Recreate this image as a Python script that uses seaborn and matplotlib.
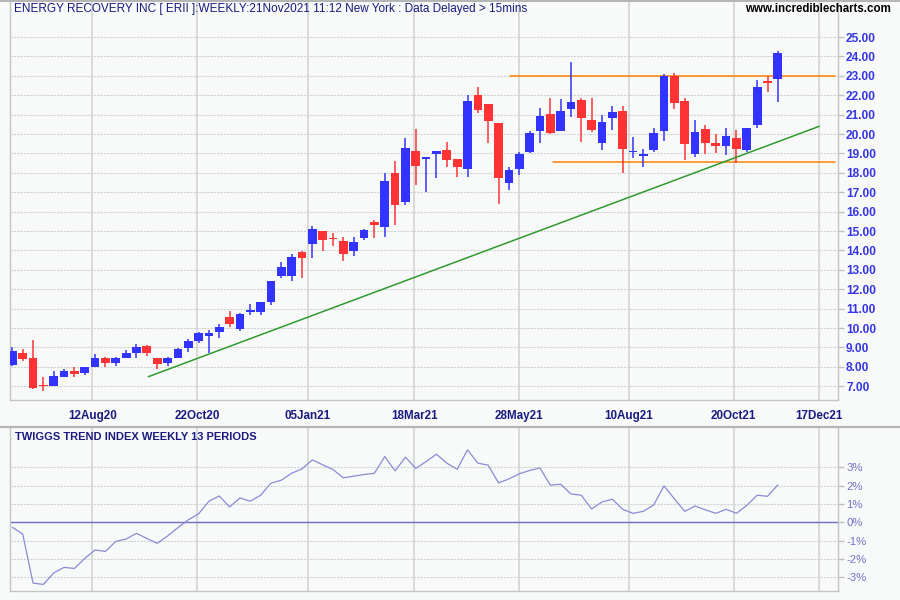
import matplotlib
matplotlib.use("Agg")
import matplotlib.pyplot as plt
import matplotlib.dates as mdates
from matplotlib.lines import Line2D
import numpy as np
import pandas as pd
import seaborn as sns

# ---------------- data ----------------
title_text = "ENERGY RECOVERY INC [ ERII ]:WEEKLY:21Nov2021 11:12 New York : Data Delayed > 15mins"
site_text = "www.incrediblecharts.com"
indicator_title = "TWIGGS TREND INDEX WEEKLY 13 PERIODS"

first_week = "2020-06-19"
n_weeks = 75

opens = [8.07, 8.69, 8.48, 7.03, 7.00, 7.50, 7.76, 7.66, 7.97, 8.43,
         8.19, 8.48, 8.69, 9.05, 8.43, 8.22, 8.43, 8.95, 9.34, 9.59,
         9.79, 10.55, 9.93, 10.81, 10.81, 11.36, 12.69, 12.66, 13.90, 14.31,
         15.02, 14.62, 14.50, 13.98, 14.62, 15.48, 15.19, 18.00, 16.52, 19.15,
         18.70, 18.96, 19.20, 18.73, 18.18, 22.00, 21.53, 20.55, 17.50, 18.18,
         19.09, 20.18, 21.05, 20.14, 21.28, 21.78, 20.74, 19.52, 20.81, 21.21,
         19.07, 18.88, 19.16, 20.14, 23.00, 21.72, 18.95, 20.28, 19.55, 19.36,
         19.81, 19.16, 20.45, 22.76, 22.86]
highs = [9.00, 8.90, 9.36, 7.48, 7.81, 7.90, 8.00, 7.97, 8.64, 8.53,
         8.53, 8.88, 9.17, 9.10, 8.43, 8.53, 8.95, 9.41, 9.78, 9.88,
         10.19, 10.90, 10.76, 11.26, 11.33, 12.43, 13.38, 13.84, 13.98, 15.28,
         15.02, 14.91, 14.67, 14.67, 15.12, 15.59, 17.97, 18.59, 19.82, 20.24,
         18.83, 19.15, 19.61, 18.73, 22.00, 22.42, 21.53, 20.55, 18.31, 19.09,
         20.18, 21.33, 21.88, 21.83, 23.69, 21.88, 21.88, 21.00, 21.47, 21.47,
         19.86, 19.21, 20.33, 23.10, 23.17, 21.88, 20.74, 20.48, 20.02, 20.33,
         20.22, 20.33, 22.81, 23.00, 24.30]
lows = [8.02, 8.29, 6.84, 6.74, 7.00, 7.45, 7.45, 7.57, 7.97, 7.97,
        8.02, 8.43, 8.48, 8.55, 7.88, 8.02, 8.43, 8.74, 9.24, 8.69,
        9.48, 10.05, 9.84, 10.66, 10.66, 11.19, 12.60, 12.43, 12.60, 13.59,
        13.95, 14.21, 13.47, 13.72, 14.55, 14.62, 14.67, 15.29, 16.34, 17.38,
        17.02, 17.76, 18.28, 17.81, 17.81, 21.08, 19.53, 16.41, 17.14, 17.87,
        19.04, 19.53, 19.98, 20.14, 20.86, 19.57, 20.09, 19.16, 20.19, 17.97,
        18.79, 18.28, 19.10, 19.62, 21.28, 18.64, 18.84, 18.95, 19.00, 18.90,
        18.53, 19.05, 20.29, 22.16, 21.64]
closes = [8.83, 8.38, 6.90, 7.00, 7.55, 7.76, 7.62, 7.97, 8.43, 8.19,
          8.48, 8.69, 9.00, 8.69, 8.14, 8.43, 8.90, 9.34, 9.74, 9.74,
          10.03, 10.19, 10.71, 10.91, 11.33, 12.43, 13.16, 13.67, 13.62, 15.12,
          14.52, 14.58, 13.84, 14.45, 15.07, 15.29, 17.59, 16.36, 19.30, 18.37,
          18.83, 19.15, 18.64, 18.28, 21.69, 21.24, 20.67, 17.71, 18.16, 18.99,
          20.08, 20.91, 20.03, 21.21, 21.67, 20.81, 20.19, 20.64, 21.16, 19.21,
          19.10, 18.92, 20.07, 23.00, 21.59, 19.47, 20.12, 19.52, 19.41, 19.91,
          19.21, 20.33, 22.45, 22.62, 24.16]

twiggs = [-0.27, -0.64, -3.32, -3.39, -2.76, -2.46, -2.52, -1.97, -1.51, -1.59,
          -1.04, -0.91, -0.60, -0.88, -1.15, -0.75, -0.29, 0.13, 0.46, 1.15,
          1.44, 0.84, 1.33, 1.15, 1.48, 2.14, 2.30, 2.68, 2.92, 3.41,
          3.14, 2.88, 2.43, 2.52, 2.61, 2.68, 3.59, 2.81, 3.56, 2.94,
          3.32, 3.72, 3.23, 2.90, 3.96, 3.23, 3.12, 2.15, 2.37, 2.65,
          2.83, 2.97, 2.03, 2.08, 1.55, 1.48, 0.73, 1.11, 1.26, 0.71,
          0.49, 0.60, 0.95, 1.99, 1.28, 0.60, 0.89, 0.68, 0.49, 0.71,
          0.49, 0.93, 1.48, 1.42, 2.04]

tick_dates = ["2020-08-12", "2020-10-22", "2021-01-05", "2021-03-18",
              "2021-05-28", "2021-08-10", "2021-10-20", "2021-12-17"]
tick_labels = ["12Aug20", "22Oct20", "05Jan21", "18Mar21",
               "28May21", "10Aug21", "20Oct21", "17Dec21"]
price_ticks = [7, 8, 9, 10, 11, 12, 13, 14, 15, 16, 17, 18, 19, 20, 21, 22, 23, 24, 25]
price_tick_labels = ["%.2f" % v for v in price_ticks]
ind_ticks = [-3, -2, -1, 0, 1, 2, 3]
ind_tick_labels = ["-3%", "-2%", "-1%", "0%", "1%", "2%", "3%"]

trend_dates = ["2020-09-19", "2021-12-17"]
trend_vals = [7.49, 20.40]
resist_dates = ["2021-05-22", "2021-12-28"]
resist_vals = [23.0, 23.0]
support_dates = ["2021-06-20", "2021-12-28"]
support_vals = [18.55, 18.55]

# ---------------- styling ----------------
BG = "#f8faf9"
UP = "#3333ff"
DOWN = "#ff3333"
GRID = "#d2d2d2"
NAVY = "#1a1a80"

sns.set_theme(style="white", rc={"axes.facecolor": BG, "figure.facecolor": BG})
plt.rcParams["font.family"] = ["Liberation Sans", "DejaVu Sans"]

dates = pd.date_range(first_week, periods=n_weeks, freq="W-FRI")
df = pd.DataFrame({"date": dates, "open": opens, "high": highs,
                   "low": lows, "close": closes, "twiggs": twiggs})
df["up"] = df["close"] >= df["open"]
df["color"] = np.where(df["up"], UP, DOWN)
df["body_lo"] = df[["open", "close"]].min(axis=1)
df["body_h"] = np.maximum((df["close"] - df["open"]).abs(), 0.08)
xnum = mdates.date2num(df["date"])

fig = plt.figure(figsize=(9, 6), dpi=100)
W, H = 900.0, 600.0
L, R = 10.0, 837.7
ax1 = fig.add_axes([L / W, 1 - 400 / H, (R - L) / W, (400 - 1) / H])
ax2 = fig.add_axes([L / W, 1 - 591 / H, (R - L) / W, (591 - 428) / H])

x0 = mdates.date2num(pd.Timestamp(first_week))
xlim = (x0 - 1.6, x0 + 558.5)

# --- price panel ---
ax1.vlines(xnum, df["low"], df["high"], colors=df["color"], lw=1.1, zorder=3)
ax1.bar(xnum, df["body_h"], bottom=df["body_lo"], width=5.9,
        color=df["color"], linewidth=0, zorder=4)
sns.lineplot(x=mdates.date2num(pd.to_datetime(trend_dates)), y=trend_vals, ax=ax1,
             color="#2e9a2e", lw=1.1, zorder=5)
sns.lineplot(x=mdates.date2num(pd.to_datetime(resist_dates)), y=resist_vals, ax=ax1,
             color="#ff8000", lw=1.1, zorder=2)
sns.lineplot(x=mdates.date2num(pd.to_datetime(support_dates)), y=support_vals, ax=ax1,
             color="#ff8000", lw=1.1, zorder=2)

ax1.set_xlim(*xlim)
ax1.set_ylim(6.29, 26.86)
ax1.yaxis.tick_right()
ax1.set_yticks(price_ticks)
ax1.set_yticklabels(price_tick_labels, fontsize=8.6, fontweight="bold",
                    color="#3535e8")
tick_x = mdates.date2num(pd.to_datetime(tick_dates))
ax1.set_xticks(tick_x)
ax1.set_xticklabels(tick_labels, fontsize=8.4, fontweight="bold", color=NAVY)
ax1.tick_params(axis="both", length=4, width=1, color="#c0c0c0", pad=2)
ax1.tick_params(axis="x", pad=3)
ax1.grid(axis="y", color=GRID, lw=0.8, linestyle=(0, (2, 1)))
ax1.grid(axis="x", color="#d0d0d0", lw=1.1)
ax1.set_axisbelow(True)
ax1.set_xlabel("")
ax1.set_ylabel("")
for s in ["left", "bottom", "right"]:
    ax1.spines[s].set_color("#c4c4c4")
    ax1.spines[s].set_linewidth(1.0)
ax1.spines["top"].set_visible(False)

# --- indicator panel ---
ax2.axhline(0, color="#6f6fc0", lw=1.0, zorder=2)
sns.lineplot(x=xnum, y=df["twiggs"], ax=ax2, color="#8a8ad6", lw=0.9, zorder=3)
ax2.set_xlim(*xlim)
ax2.set_ylim(-3.75, 5.15)
ax2.yaxis.tick_right()
ax2.set_yticks(ind_ticks)
ax2.set_yticklabels(ind_tick_labels, fontsize=8.2, color="#7272c6")
ax2.set_xticks(tick_x)
ax2.set_xticklabels([])
ax2.tick_params(axis="both", length=4, width=1, color="#c0c0c0", pad=2)
ax2.grid(axis="y", color=GRID, lw=0.8, linestyle=(0, (2, 1)))
ax2.grid(axis="x", color="#d0d0d0", lw=1.1)
ax2.set_axisbelow(True)
ax2.set_xlabel("")
ax2.set_ylabel("")
for s in ["left", "bottom", "right"]:
    ax2.spines[s].set_color("#c4c4c4")
    ax2.spines[s].set_linewidth(1.0)
ax2.spines["top"].set_visible(False)
ax2.text(5 / (R - L), 1 - 9 / (591 - 428), indicator_title, transform=ax2.transAxes,
         ha="left", va="center", fontsize=8, fontweight="bold", color=NAVY)

# --- frame lines and header texts ---
fig.add_artist(Line2D([0, 1], [1 - 427 / H] * 2, color="#b4b4b4", lw=1.6))
fig.add_artist(Line2D([0, 1], [1 - 0.5 / H] * 2, color="#b4b4b4", lw=1.4))
fig.text(14 / W, 1 - 9 / H, title_text, ha="left", va="center", fontsize=8.5,
         color=NAVY)
fig.text(891 / W, 1 - 9 / H, site_text, ha="right", va="center", fontsize=8.3,
         fontweight="bold", color="black")

fig.savefig("out.png", dpi=100, facecolor=BG)
